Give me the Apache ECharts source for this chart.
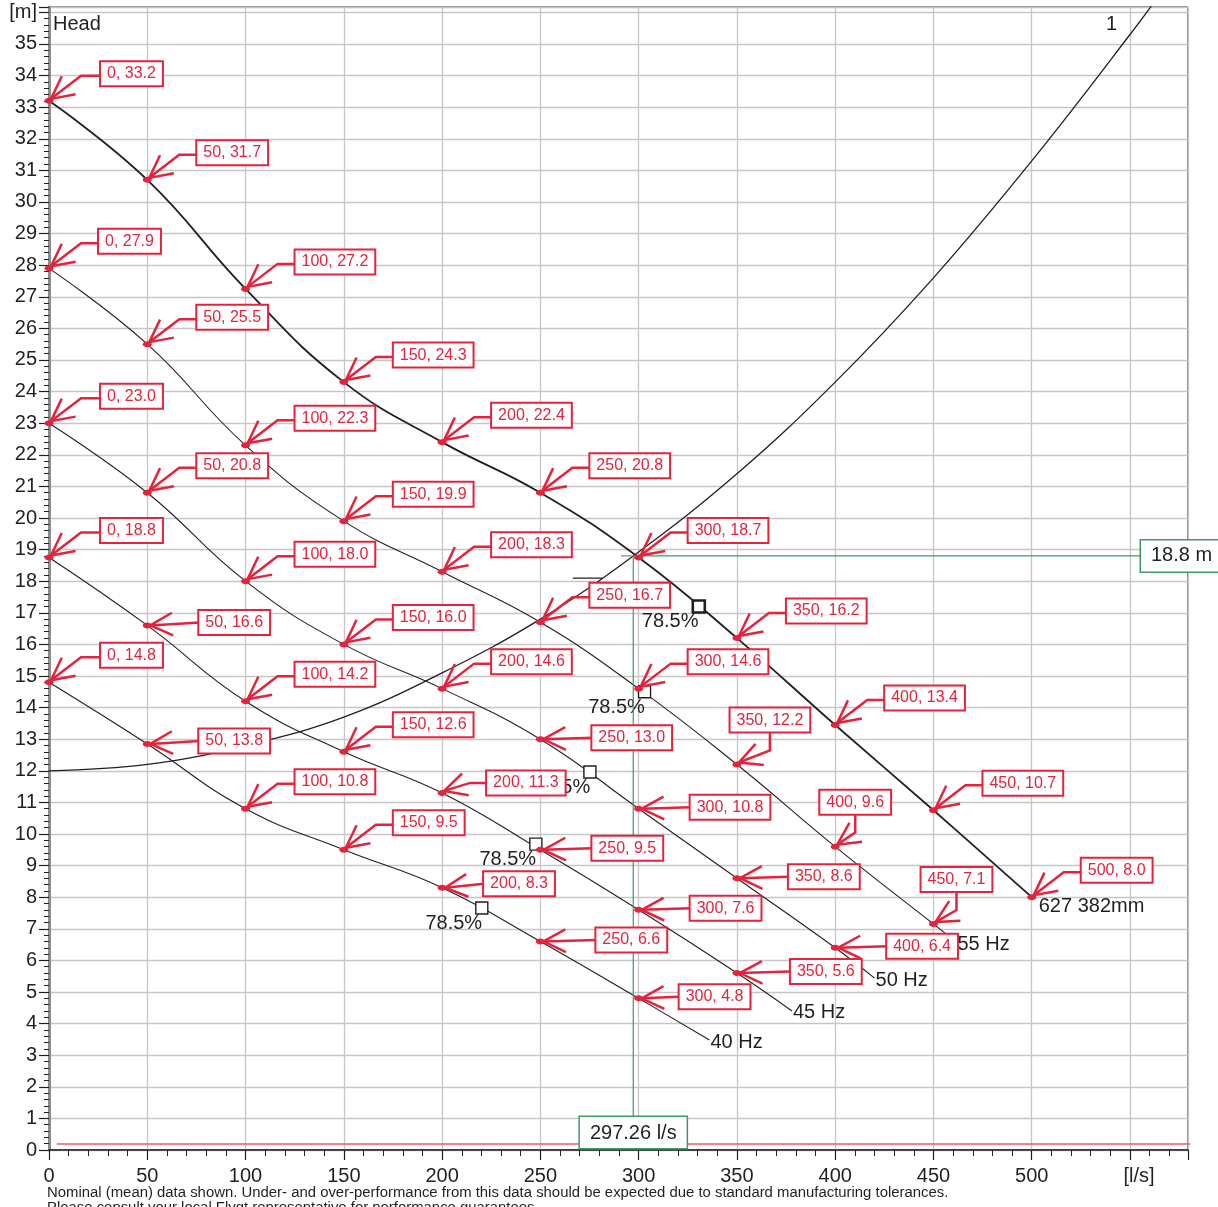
<!DOCTYPE html>
<html><head><meta charset="utf-8">
<script src="https://cdn.jsdelivr.net/npm/echarts@6/dist/echarts.min.js"></script>
<style>html,body{margin:0;padding:0;background:#fff}#c{width:1218px;height:1207px}</style>
</head><body><div id="c"></div>
<script>
// ---------- data ----------
const xTickValues = [0,50,100,150,200,250,300,350,400,450,500,550];
const xTickLabels = ['0','50','100','150','200','250','300','350','400','450','500','[l/s]'];
const yTopLabel = '[m]';

const curve627 = [[0,33.2],[50,30.7],[100,27.25],[150,24.3],[200,22.4],[250,20.8],[300,18.75],[350,16.2],[400,13.45],[450,10.75],[500,8.0]];
const labels627 = ['0, 33.2','50, 31.7','100, 27.2','150, 24.3','200, 22.4','250, 20.8','300, 18.7','350, 16.2','400, 13.4','450, 10.7','500, 8.0'];

const curve55 = [[0,27.9],[50,25.5],[100,22.3],[150,19.9],[200,18.3],[250,16.7],[300,14.6],[350,12.2],[400,9.6],[450,7.15],[461.7,6.58]];
const labels55 = ['0, 27.9','50, 25.5','100, 22.3','150, 19.9','200, 18.3','250, 16.7','300, 14.6','350, 12.2','400, 9.6','450, 7.1'];

const curve50 = [[0,23.0],[50,20.8],[100,18.0],[150,16.0],[200,14.6],[250,13.0],[300,10.8],[350,8.6],[400,6.4],[420,5.44]];
const labels50 = ['0, 23.0','50, 20.8','100, 18.0','150, 16.0','200, 14.6','250, 13.0','300, 10.8','350, 8.6','400, 6.4'];

const curve45 = [[0,18.75],[50,16.6],[100,14.2],[150,12.6],[200,11.3],[250,9.5],[300,7.6],[350,5.6],[378,4.4]];
const labels45 = ['0, 18.8','50, 16.6','100, 14.2','150, 12.6','200, 11.3','250, 9.5','300, 7.6','350, 5.6'];

const curve40 = [[0,14.8],[50,12.85],[100,10.8],[150,9.5],[200,8.3],[250,6.6],[300,4.8],[336,3.48]];
const labels40 = ['0, 14.8','50, 13.8','100, 10.8','150, 9.5','200, 8.3','250, 6.6','300, 4.8'];

const curveNames = ['627 382mm','55 Hz','50 Hz','45 Hz','40 Hz'];

const systemCurve = [[0,12.0],[50,12.2],[100,12.8],[150,13.7],[200,15.1],[250,16.8],[297.26,18.8],[350,21.4],[400,24.3],[450,27.6],[500,31.3],[550,35.3],[575,37.4]];
const systemName = '1';

const effPoints = [[330.6,17.2],[303,14.5],[275.2,11.96],[247.7,9.68],[220.2,7.66]];
const effLabels = ['78.5%','78.5%','78.5%','78.5%','78.5%'];

const dutyFlow = 297.26;
const dutyHead = 18.8;
const dutyFlowText = '297.26 l/s';
const dutyHeadText = '18.8 m';

const npshLine = [[4,0.19],[588,0.19]];
const toleranceSeg = [[266.5,18.1],[281.5,18.1]];
const dutyGraySeg = [[291,18.8],[297.26,18.8]];

const footnote1 = 'Nominal (mean) data shown. Under- and over-performance from this data should be expected due to standard manufacturing tolerances.';
const footnote2 = 'Please consult your local Flygt representative for performance guarantees.';

// ---------- label layout (style, not data) ----------
const D = {t:'d'};
const layout627 = [{t:'d',dx:52},D,D,D,D,D,D,D,D,D,D];
const layout55 = [D,D,D,D,D,D,D,{t:'v',cx:33},{t:'v',cx:20},{t:'v',cx:23}];
const layout50 = [{t:'d',dx:52},D,D,D,D,{t:'h'},{t:'h'},{t:'h'},{t:'h'}];
const layout45 = [{t:'d',dx:52},{t:'h',dy:-3},D,D,{t:'d',dx:45,dy:-10,ly:-10,kx:28},{t:'h'},{t:'h'},{t:'h',dx:54}];
const layout40 = [{t:'d',dx:52},{t:'h',dy:-3},D,D,{t:'h',dx:42,dy:-4},{t:'h',dx:56},{t:'h',dx:41}];

const RED = '#e4233c';
const INK = '#231f20';
const GREEN = '#3d9b64';
const FONT = '"Liberation Sans", Arial, sans-serif';

function barbs(tip, toward){
  const dx = toward[0]-tip[0], dy = toward[1]-tip[1];
  const len = Math.hypot(dx,dy) || 1; const ux = dx/len, uy = dy/len;
  const a = 27*Math.PI/180, L = 25;
  const r = ang => [tip[0]+L*(ux*Math.cos(ang)-uy*Math.sin(ang)), tip[1]+L*(ux*Math.sin(ang)+uy*Math.cos(ang))];
  return [r(-a), tip, r(a)];
}

function labelSeries(curve, labels, layout){
  const data = labels.map((t,i)=>[curve[i][0], curve[i][1], i]);
  return {
    type:'custom', z:10, clip:false, silent:true, data, encode:{x:0,y:1},
    renderItem(params, api){
      const i = api.value(2);
      const p = api.coord([api.value(0), api.value(1)]);
      const L = layout[i];
      const lineStyle = {stroke:RED, lineWidth:2.5, fill:null};
      let leader, tip, next, textEl;
      const ts = {text:labels[i], font:'16px '+FONT, fill:RED, backgroundColor:'#fff', borderColor:RED, borderWidth:2, padding:[4,6,3,6]};
      if (L.t === 'd'){
        const dx = L.dx ?? 50, dy = L.dy ?? -27, ly = L.ly ?? -25, kx = L.kx ?? 32;
        tip = [p[0]+2, p[1]-2];
        next = [p[0]+kx, p[1]+ly];
        leader = [[p[0]+dx, p[1]+ly], next, tip];
        textEl = {type:'text', x:p[0]+dx, y:p[1]+dy, style:Object.assign({align:'left', verticalAlign:'middle', textAlign:'left', textVerticalAlign:'middle'}, ts)};
      } else if (L.t === 'h'){
        const dx = L.dx ?? 52, dy = L.dy ?? -1.5;
        tip = [p[0]+3, p[1]];
        next = [p[0]+dx, p[1]+dy];
        leader = [next, tip];
        textEl = {type:'text', x:p[0]+dx, y:p[1]+dy, style:Object.assign({align:'left', verticalAlign:'middle', textAlign:'left', textVerticalAlign:'middle'}, ts)};
      } else {
        const cx = L.cx ?? 25;
        tip = [p[0]+2, p[1]-2];
        next = [p[0]+cx, p[1]-14];
        leader = [[p[0]+cx, p[1]-33], next, tip];
        textEl = {type:'text', x:p[0]+cx, y:p[1]-33, style:Object.assign({align:'center', verticalAlign:'bottom', textAlign:'center', textVerticalAlign:'bottom'}, ts)};
      }
      return {type:'group', children:[
        {type:'polyline', shape:{points:leader}, style:lineStyle},
        {type:'polyline', shape:{points:barbs(tip,next)}, style:lineStyle},
        {type:'ellipse', shape:{cx:p[0], cy:p[1], rx:4.5, ry:3}, style:{fill:RED}},
        textEl
      ]};
    }
  };
}

function pumpLine(curve, name, width, endOffset){
  return {
    type:'line', data:curve, smooth:0.45, showSymbol:false, symbol:'none', silent:true, z:3,
    lineStyle:{color:INK, width:width},
    endLabel:{show:true, formatter:name, fontSize:20, fontFamily:FONT, color:INK, distance:1, offset:endOffset}
  };
}

const chart = echarts.init(document.getElementById('c'), null, {renderer:'canvas'});
const option = {
  animation:false,
  backgroundColor:'#fff',
  grid:{left:49, right:30, top:7, bottom:57, show:true, borderColor:INK, borderWidth:1, backgroundColor:'transparent'},
  xAxis:{
    type:'value', min:0, max:579.5, interval:50,
    axisLine:{show:true, onZero:false, lineStyle:{color:INK, width:1.5}},
    axisTick:{show:true, length:10, lineStyle:{color:INK, width:1.2}},
    minorTick:{show:true, splitNumber:5, length:6, lineStyle:{color:INK, width:1}},
    splitLine:{show:true, lineStyle:{color:'#c6c6c6', width:1.3}},
    axisLabel:{
      margin:16, fontSize:20, fontFamily:FONT, color:INK,
      formatter:v=>{const k = xTickValues.indexOf(v); if (k<0) return ''; return k===xTickLabels.length-1 ? '{u|'+xTickLabels[k]+'}' : xTickLabels[k];},
      rich:{u:{fontSize:20, fontFamily:FONT, color:INK, padding:[0,0,0,18]}}
    }
  },
  yAxis:[{
    type:'value', min:0, max:36.17, interval:1,
    axisLine:{show:true, onZero:false, lineStyle:{color:INK, width:1.5}},
    axisTick:{show:true, length:10, lineStyle:{color:INK, width:1.2}},
    minorTick:{show:true, splitNumber:5, length:5, lineStyle:{color:INK, width:1}},
    splitLine:{show:true, lineStyle:{color:'#c6c6c6', width:1.3}},
    axisLabel:{margin:12, fontSize:20, fontFamily:FONT, color:INK,
      formatter:v=>{ if (Math.abs(v-36)<1e-6) return yTopLabel; return Number.isInteger(v) && v<36 ? String(v) : ''; }}
  },{
    type:'value', position:'right', min:0, max:36.17,
    axisLine:{show:true, lineStyle:{color:'#8c8c8c', width:3}},
    axisTick:{show:false}, axisLabel:{show:false}, splitLine:{show:false}
  }],
  graphic:[
    {type:'text', left:53, top:14, style:{text:'Head', font:'20px '+FONT, fill:INK}},
    {type:'text', left:1106, top:14, style:{text:systemName, font:'20px '+FONT, fill:INK}},
    {type:'text', left:47, top:1185, style:{text:footnote1, font:'14.9px '+FONT, fill:INK}},
    {type:'text', left:47, top:1200, style:{text:footnote2, font:'14.9px '+FONT, fill:INK}}
  ],
  series:[
    {type:'line', data:npshLine, clip:false, showSymbol:false, symbol:'none', silent:true, z:2, lineStyle:{color:'#ee5a64', width:1.5}},
    {type:'line', data:systemCurve, smooth:0.4, showSymbol:false, symbol:'none', silent:true, z:3, lineStyle:{color:INK, width:1.3}},
    pumpLine(curve627, curveNames[0], 1.8, [6,9]),
    pumpLine(curve55, curveNames[1], 1.1, [0,2]),
    pumpLine(curve50, curveNames[2], 1.1, [0,2]),
    pumpLine(curve45, curveNames[3], 1.1, [0,2]),
    pumpLine(curve40, curveNames[4], 1.1, [0,2]),
    {type:'line', data:toleranceSeg, showSymbol:false, symbol:'none', silent:true, z:3, lineStyle:{color:INK, width:1.2}},
    {type:'line', data:dutyGraySeg, showSymbol:false, symbol:'none', silent:true, z:3, lineStyle:{color:'#888', width:1.2}},
    {
      type:'scatter', z:5, silent:true,
      data:effPoints.map((p,i)=>({value:p, itemStyle:i===0?{borderWidth:2.6}:undefined})),
      symbol:'rect', symbolSize:12,
      itemStyle:{color:'#fff', borderColor:INK, borderWidth:1.4, opacity:1},
      label:{show:true, formatter:p=>effLabels[p.dataIndex], position:[7,22], align:'right', verticalAlign:'middle', fontSize:20, fontFamily:FONT, color:INK, opacity:1}
    },
    {
      type:'custom', z:6, clip:false, silent:true, data:[[dutyFlow,dutyHead]], encode:{x:0,y:1},
      renderItem(params, api){
        const p = api.coord([api.value(0), api.value(1)]);
        const cs = params.coordSys;
        const bottom = cs.y + cs.height, right = cs.x + cs.width;
        const bs = {font:'20px '+FONT, fill:INK, backgroundColor:'#fff', borderColor:GREEN, borderWidth:1.5, padding:[6,10,5,10]};
        return {type:'group', children:[
          {type:'line', shape:{x1:p[0], y1:p[1], x2:p[0], y2:bottom-34}, style:{stroke:GREEN, lineWidth:1.2}},
          {type:'line', shape:{x1:p[0], y1:p[1], x2:right-47, y2:p[1]}, style:{stroke:GREEN, lineWidth:1.2}},
          {type:'text', x:p[0], y:bottom-2, style:Object.assign({text:dutyFlowText, align:'center', verticalAlign:'bottom', textAlign:'center', textVerticalAlign:'bottom'}, bs)},
          {type:'text', x:right-47, y:p[1], style:Object.assign({text:dutyHeadText, align:'left', verticalAlign:'middle', textAlign:'left', textVerticalAlign:'middle'}, bs)}
        ]};
      }
    },
    labelSeries(curve627, labels627, layout627),
    labelSeries(curve55, labels55, layout55),
    labelSeries(curve50, labels50, layout50),
    labelSeries(curve45, labels45, layout45),
    labelSeries(curve40, labels40, layout40)
  ]
};
chart.setOption(option);
</script>
</body></html>
